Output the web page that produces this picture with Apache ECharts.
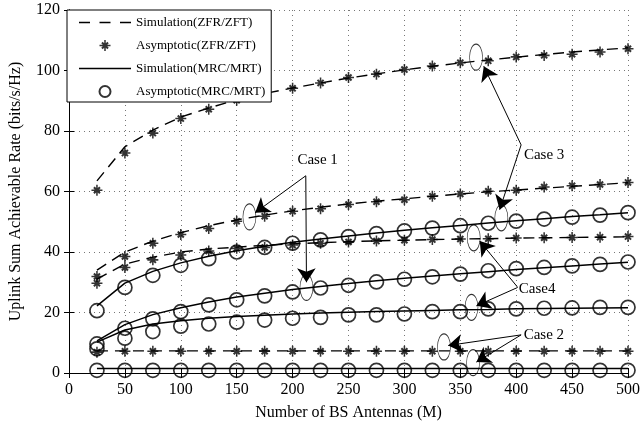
<!DOCTYPE html>
<html>
<head>
<meta charset="utf-8">
<script src="https://cdn.jsdelivr.net/npm/echarts@6/dist/echarts.min.js"></script>
<style>
  html, body { margin: 0; padding: 0; background: #fff; }
  #chart { width: 643px; height: 426px; }
</style>
</head>
<body>
<div id="chart"></div>
<script>
// number of BS antennas
var antennas = [25, 50, 75, 100, 125, 150, 175, 200, 225, 250, 275, 300, 325, 350, 375, 400, 425, 450, 475, 500];
var xTicks = [0, 50, 100, 150, 200, 250, 300, 350, 400, 450, 500];
var yTicks = [0, 20, 40, 60, 80, 100, 120];

// ZFR/ZFT, case 3 (top curve)
var zfrCase3Sim = [63.5, 74.8, 80.3, 84.6, 87.6, 90.3, 92.4, 94.2, 95.9, 97.5, 98.9, 100.2, 101.4, 102.5, 103.5, 104.4, 105.3, 106.1, 106.8, 107.5];
var zfrCase3Asym = [60.4, 72.7, 79.3, 84.1, 87.2, 90.2, 92.2, 94.1, 95.9, 97.7, 98.8, 100.3, 101.5, 102.6, 103.2, 104.5, 105.0, 105.4, 106.1, 107.2];
// ZFR/ZFT, case 1 (upper and lower)
var zfrCase1aSim = [34.0, 40.0, 43.6, 46.4, 48.7, 50.6, 52.2, 53.6, 54.8, 55.9, 56.8, 57.6, 58.4, 59.2, 59.9, 60.5, 61.1, 61.7, 62.3, 62.9];
var zfrCase1aAsym = [31.9, 38.5, 42.9, 45.8, 47.8, 50.2, 51.8, 53.5, 54.3, 55.7, 56.6, 57.3, 58.4, 59.2, 60.1, 60.4, 61.5, 61.9, 62.3, 63.0];
var zfrCase1bSim = [31.0, 36.0, 38.3, 40.0, 41.0, 41.6, 42.2, 42.7, 43.1, 43.4, 43.7, 43.9, 44.1, 44.3, 44.4, 44.6, 44.7, 44.8, 44.9, 45.0];
var zfrCase1bAsym = [29.7, 34.9, 37.4, 39.0, 40.3, 41.2, 41.5, 42.3, 42.9, 43.3, 43.6, 43.9, 44.1, 44.3, 44.4, 44.6, 44.7, 44.8, 44.9, 45.1];
// ZFR/ZFT, case 2
var zfrCase2Sim = [7.3, 7.3, 7.3, 7.3, 7.3, 7.3, 7.3, 7.3, 7.3, 7.3, 7.3, 7.3, 7.3, 7.3, 7.3, 7.3, 7.3, 7.3, 7.3, 7.3];
var zfrCase2Asym = [6.9, 7.2, 7.2, 7.2, 7.2, 7.2, 7.2, 7.2, 7.2, 7.2, 7.2, 7.2, 7.2, 7.2, 7.2, 7.2, 7.2, 7.2, 7.2, 7.2];

// MRC/MRT curves
var mrcUpperSim = [22.2, 29.7, 33.6, 36.4, 38.6, 40.4, 41.9, 43.2, 44.3, 45.3, 46.3, 47.2, 48.0, 48.8, 49.6, 50.3, 51.0, 51.7, 52.3, 53.0];
var mrcUpperAsym = [20.6, 28.3, 32.3, 35.6, 37.8, 40.0, 41.5, 42.9, 44.0, 45.1, 46.1, 47.0, 47.9, 48.7, 49.5, 50.2, 50.9, 51.5, 52.2, 53.0];
var mrcMiddleSim = [10.6, 16.0, 19.3, 21.6, 23.5, 25.1, 26.4, 27.6, 28.6, 29.6, 30.5, 31.3, 32.1, 32.8, 33.5, 34.2, 34.8, 35.4, 36.0, 36.6];
var mrcMiddleAsym = [9.6, 14.8, 17.9, 20.3, 22.5, 24.2, 25.5, 26.8, 28.1, 29.0, 30.1, 31.0, 31.8, 32.7, 33.8, 34.5, 34.9, 35.4, 35.9, 36.7];
var mrcLowerSim = [10.2, 14.2, 16.2, 17.3, 18.1, 18.7, 19.1, 19.5, 19.8, 20.1, 20.3, 20.5, 20.7, 20.9, 21.0, 21.2, 21.3, 21.4, 21.5, 21.6];
var mrcLowerAsym = [8.0, 11.5, 13.7, 15.5, 16.2, 16.8, 17.5, 18.1, 18.4, 19.2, 19.2, 19.5, 20.3, 20.3, 21.2, 21.2, 21.4, 21.5, 21.7, 21.7];
var mrcCase2Sim = [1.5, 1.5, 1.5, 1.5, 1.5, 1.5, 1.5, 1.5, 1.5, 1.5, 1.5, 1.5, 1.5, 1.5, 1.5, 1.5, 1.5, 1.5, 1.5, 1.5];
var mrcCase2Asym = [0.9, 0.9, 0.9, 0.9, 0.9, 0.9, 0.9, 0.9, 0.9, 0.9, 0.9, 0.9, 0.9, 0.9, 0.9, 0.9, 0.9, 0.9, 0.9, 0.9];

// annotations (data coordinates)
var caseLabels = [['Case 1', 203, 70.5], ['Case 3', 405.6, 72.1], ['Case4', 401, 27.7], ['Case 2', 405.3, 12.6]];
var ellipses = [[161.4, 51.6], [212.4, 28.3], [364.1, 104.4], [386.7, 51.3], [362, 44.7], [360, 21.7], [335.4, 8.6], [361.4, 3.4]];
var arrows = [
  [[211.8, 65.2], [166.5, 53]],
  [[211.8, 65.2], [212.4, 30]],
  [[404.4, 75.4], [371, 101.4]],
  [[404.4, 75.4], [385.2, 54]],
  [[401.4, 28.3], [367.4, 43.6]],
  [[401.4, 28.3], [364.4, 22.2]],
  [[404.4, 12.6], [339.2, 9.1]],
  [[404.4, 12.6], [364.4, 3.6]]
];

var SERIF = 'Liberation Serif';
// bold asterisk: long + bars, short thick diagonals
var STAR = 'path://M8.6,0h2.8v20h-2.8zM0,8.6h20v2.8h-20zM3.2,5.8L5.8,3.2L16.8,14.2L14.2,16.8zM14.2,3.2L16.8,5.8L5.8,16.8L3.2,14.2z';
// legend icons drawn in a 52x11 box (corner dots fix the box)
var BOX = 'M0,0h0.05v0.05h-0.05zM51.95,10.95h0.05v0.05h-0.05z';
var DASH_ICON = 'path://' + BOX + 'M0,4.8h11v1.5h-11zM20.5,4.8h11v1.5h-11zM41,4.8h11v1.5h-11z';
var SOLID_ICON = 'path://' + BOX + 'M0,4.8h52v1.5h-52z';

function pairs(ys) {
  return antennas.map(function (m, i) { return [m, ys[i]]; });
}

function simZfr(ys) {
  return {
    name: 'Simulation(ZFR/ZFT)', type: 'line', data: pairs(ys), symbol: 'none',
    lineStyle: { color: '#000', width: 1.4, type: [11, 7] }, itemStyle: { color: '#000' },
    z: 3, silent: true, animation: false
  };
}
function asymZfr(ys) {
  return {
    name: 'Asymptotic(ZFR/ZFT)', type: 'scatter', data: pairs(ys), symbol: STAR, symbolSize: 11,
    itemStyle: { color: '#000' }, z: 4, silent: true, animation: false
  };
}
function simMrc(ys) {
  return {
    name: 'Simulation(MRC/MRT)', type: 'line', data: pairs(ys), symbol: 'none',
    lineStyle: { color: '#000', width: 1.5 }, itemStyle: { color: '#000' },
    z: 3, silent: true, animation: false
  };
}
function asymMrc(ys) {
  return {
    name: 'Asymptotic(MRC/MRT)', type: 'scatter', data: pairs(ys), symbol: 'circle', symbolSize: 14,
    itemStyle: { color: 'rgba(0,0,0,0)', borderColor: '#000', borderWidth: 1.7 },
    z: 4, silent: true, animation: false
  };
}

var chart = echarts.init(document.getElementById('chart'), null, { renderer: 'canvas' });

var axisCommon = {
  type: 'value',
  axisLine: { show: true, lineStyle: { color: '#000', width: 1 } },
  axisTick: { show: true, inside: true, length: 5, lineStyle: { color: '#000' } }
};

var option = {
  backgroundColor: '#fff',
  animation: false,
  grid: { left: 67, right: 14, top: 10, bottom: 52 },
  legend: {
    data: [
      { name: 'Simulation(ZFR/ZFT)', icon: DASH_ICON },
      { name: 'Asymptotic(ZFR/ZFT)' },
      { name: 'Simulation(MRC/MRT)', icon: SOLID_ICON },
      { name: 'Asymptotic(MRC/MRT)' }
    ],
    orient: 'vertical', left: 67, top: 10,
    backgroundColor: '#fff', borderColor: '#000', borderWidth: 1, borderRadius: 0,
    padding: [6, 6, 4, 12], itemGap: 10, itemWidth: 52, itemHeight: 11, itemTextGap: 12,
    textStyle: { fontFamily: SERIF, fontSize: 13, color: '#000' },
    z: 10
  },
  xAxis: [
    Object.assign({}, axisCommon, {
      min: 0, max: 500, interval: 50, position: 'bottom',
      splitLine: { show: true, lineStyle: { color: '#777', type: [1, 4], width: 1 } },
      axisLabel: { fontFamily: SERIF, fontSize: 16, color: '#000', margin: 9 },
      name: 'Number of BS Antennas (M)', nameLocation: 'middle', nameGap: 32,
      nameTextStyle: { fontFamily: SERIF, fontSize: 16, color: '#000' }
    }),
    Object.assign({}, axisCommon, {
      min: 0, max: 500, interval: 50, position: 'top',
      splitLine: { show: false }, axisLabel: { show: false }
    })
  ],
  yAxis: [
    Object.assign({}, axisCommon, {
      min: 0, max: 120, interval: 20, position: 'left',
      splitLine: { show: true, lineStyle: { color: '#777', type: [1, 4], width: 1 } },
      axisLabel: { fontFamily: SERIF, fontSize: 16, color: '#000', margin: 9 },
      name: 'Uplink Sum Achievable Rate (bits/s/Hz)', nameLocation: 'middle', nameGap: 45,
      nameTextStyle: { fontFamily: SERIF, fontSize: 16, color: '#000' }
    }),
    Object.assign({}, axisCommon, {
      min: 0, max: 120, interval: 20, position: 'right',
      splitLine: { show: false }, axisLabel: { show: false }
    })
  ],
  series: [
    simZfr(zfrCase3Sim), asymZfr(zfrCase3Asym),
    simZfr(zfrCase1aSim), asymZfr(zfrCase1aAsym),
    simZfr(zfrCase1bSim), asymZfr(zfrCase1bAsym),
    simZfr(zfrCase2Sim), asymZfr(zfrCase2Asym),
    simMrc(mrcUpperSim), asymMrc(mrcUpperAsym),
    simMrc(mrcMiddleSim), asymMrc(mrcMiddleAsym),
    simMrc(mrcLowerSim), asymMrc(mrcLowerAsym),
    simMrc(mrcCase2Sim), asymMrc(mrcCase2Asym),
    {
      name: 'ellipses', type: 'scatter', data: ellipses, symbol: 'circle', symbolSize: [13, 26],
      itemStyle: { color: 'rgba(0,0,0,0)', borderColor: '#000', borderWidth: 0.9 },
      z: 5, silent: true
    },
    {
      name: 'arrows', type: 'lines', coordinateSystem: 'cartesian2d',
      data: arrows.map(function (a) { return { coords: a }; }),
      symbol: ['none', 'arrow'], symbolSize: 14,
      lineStyle: { color: '#000', width: 1, opacity: 1 },
      z: 6, silent: true
    },
    {
      name: 'labels', type: 'scatter', symbolSize: 1,
      data: caseLabels.map(function (c) { return { name: c[0], value: [c[1], c[2]] }; }),
      itemStyle: { color: 'rgba(0,0,0,0)' },
      label: {
        show: true, position: 'right', distance: 0, formatter: '{b}', opacity: 1,
        fontFamily: SERIF, fontSize: 15, color: '#000', textBorderWidth: 0,
        backgroundColor: '#fff', padding: [0, 1]
      },
      z: 7, silent: true
    }
  ]
};

chart.setOption(option);
</script>
</body>
</html>
